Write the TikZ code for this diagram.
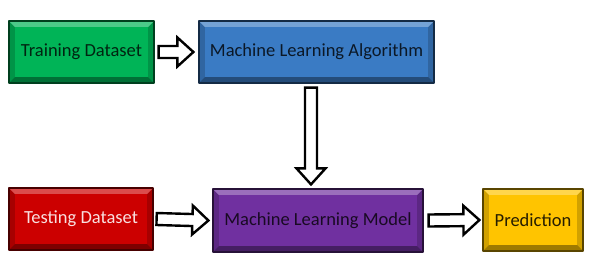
\documentclass[tikz,border=0pt]{standalone}
\usepackage{fontspec}
\setmainfont{Carlito}
\usetikzlibrary{calc}
\definecolor{trgreen}{HTML}{00B457}
\definecolor{mlblue}{HTML}{3A7BC4}
\definecolor{tsred}{HTML}{CC0000}
\definecolor{mdpurple}{HTML}{7030A0}
\definecolor{prgold}{HTML}{FFC400}
\tikzset{
  every picture/.style={line join=round, line cap=round},
  stage/.style={draw=#1!35!black, line width=1.2pt, fill=#1, minimum height=62,
    font=\fontsize{18.5}{22}\selectfont,
    path picture={
      \path (path picture bounding box.north west) coordinate (bnw)
            (path picture bounding box.north east) coordinate (bne)
            (path picture bounding box.south east) coordinate (bse)
            (path picture bounding box.south west) coordinate (bsw);
      \fill[#1!82!black] (bnw) rectangle (bse);
      \fill[#1!70!white] (bnw) -- (bne) -- ([shift={(-6pt,-6pt)}]bne) -- ([shift={(6pt,-6pt)}]bnw) -- cycle;
      \fill[#1!62!black] (bsw) -- (bse) -- ([shift={(-6pt,6pt)}]bse) -- ([shift={(6pt,6pt)}]bsw) -- cycle;
      \fill[#1] ([shift={(6pt,-6pt)}]bnw) rectangle ([shift={(-6pt,6pt)}]bse);
    }},
  blockarrow/.style={draw=black, fill=white, line width=2.4pt, line join=miter,
    to path={let \p1=(\tikztostart), \p2=(\tikztotarget),
      \n1={veclen(\x2-\x1,\y2-\y1)-16}, \n2={atan2(\y2-\y1,\x2-\x1)} in
      ($(\p1)+(\n2+90:6pt)$) -- ++(\n2:\n1) -- ++(\n2+90:8.5pt) -- (\p2)
      -- ($(\p2)+(\n2+180:16pt)+(\n2-90:14.5pt)$) -- ++(\n2+90:8.5pt)
      -- ++(\n2+180:\n1) -- cycle}},
}

\begin{document}
\begin{tikzpicture}[x=1pt, y=-1pt]
\useasboundingbox (0,0) rectangle (596,274);
\node[stage=trgreen, text=black!80!trgreen, minimum width=145] (train) at (81.5,52) {Training Dataset};
\node[stage=mlblue, text=black!80!mlblue, minimum width=235] (algo) at (316.5,52) {Machine Learning Algorithm};
\node[stage=tsred, text=tsred!12!white, minimum width=144] (test) at (81,219) {Testing Dataset};
\node[stage=mdpurple, text=black!78!mdpurple, minimum width=210, minimum height=63] (model) at (318,220.5) {Machine Learning Model};
\node[stage=prgold, text=black!85!prgold, minimum width=100] (pred) at (533,220) {Prediction};
\draw[blockarrow] ([xshift=4]train.east) to ([xshift=-5]algo.west);
\draw[blockarrow] ([xshift=-5.5,yshift=-4]algo.south) to ([xshift=-7,yshift=4]model.north);
\draw[blockarrow] ([xshift=3]test.east) to ([xshift=-4]model.west);
\draw[blockarrow] ([xshift=5]model.east) to ([xshift=-3]pred.west);
\end{tikzpicture}
\end{document}
